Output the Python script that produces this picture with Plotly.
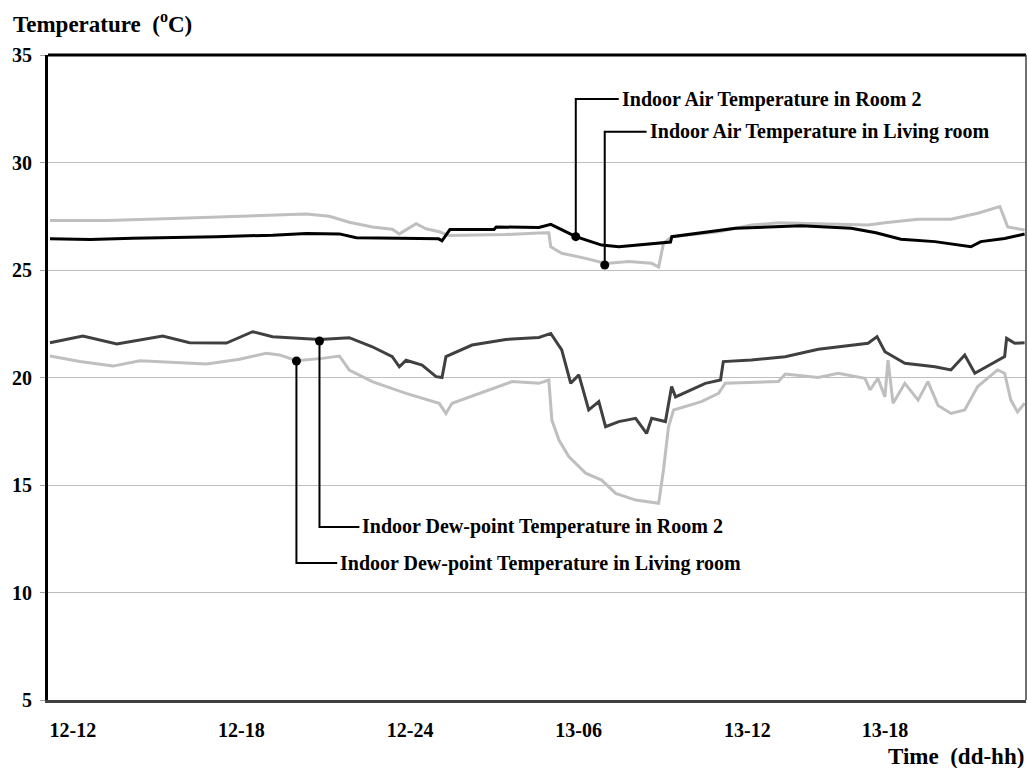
import plotly.graph_objects as go

# ---- data (hours since 12-12) ----
air_r2_h = [0.07, 1.5, 3, 4.5, 6, 8, 9.19, 10.37, 10.97, 12.5, 13.9, 14.02, 14.16, 14.3, 15.87, 15.95, 17.47, 17.89,
            18.78, 19.70, 20.31, 21.73, 22.15, 22.2, 23.25, 24.46, 26.80, 28.58, 29.46, 30.35, 31.56, 32.84, 33.19, 34.04, 34.75]
air_r2_v = [26.45, 26.42, 26.48, 26.5, 26.55, 26.62, 26.7, 26.68, 26.5, 26.48, 26.45, 26.36, 26.6, 26.88, 26.88, 27.0, 26.98, 27.12,
            26.55, 26.16, 26.08, 26.24, 26.3, 26.55, 26.73, 26.94, 27.06, 26.94, 26.73, 26.43, 26.32, 26.08, 26.32, 26.47, 26.67]

air_lr_h = [0.07, 2.09, 4.44, 7.42, 9.19, 10.01, 10.72, 11.54, 12.25, 12.50, 13.10, 13.45, 13.92, 14.27, 16.29, 17.47, 17.82,
            17.89, 18.28, 19.13, 19.84, 20.66, 21.48, 21.73, 21.90, 22.19, 23.86, 25.03, 25.99, 29.18, 29.78, 30.96, 32.13,
            33.08, 33.87, 34.15, 34.75]
air_lr_v = [27.3, 27.3, 27.4, 27.51, 27.6, 27.5, 27.22, 27.0, 26.9, 26.68, 27.15, 26.92, 26.78, 26.6, 26.65, 26.72, 26.73,
            26.08, 25.78, 25.54, 25.3, 25.39, 25.31, 25.14, 26.24, 26.55, 26.78, 27.09, 27.2, 27.09, 27.2, 27.36, 27.36,
            27.64, 27.95, 27.0, 26.86]

dew_r2_h = [0.07, 1.24, 2.45, 4.08, 5.04, 6.35, 7.28, 7.99, 9.66, 10.72, 11.54, 12.25, 12.50, 12.74, 13.31, 13.81, 14.02,
            14.16, 15.09, 16.29, 17.47, 17.89, 18.28, 18.60, 18.89, 19.24, 19.60, 19.84, 20.31, 20.91, 21.30, 21.48, 21.97,
            22.19, 22.33, 23.39, 23.93, 24.03, 25.03, 26.23, 27.41, 28.58, 29.18, 29.50, 29.78, 30.49, 31.56, 32.13, 32.62,
            32.98, 33.69, 34.04, 34.11, 34.40, 34.75]
dew_r2_v = [21.62, 21.93, 21.56, 21.93, 21.62, 21.6, 22.13, 21.9, 21.77, 21.85, 21.43, 20.97, 20.5, 20.8, 20.58, 20.04, 20.0,
            20.97, 21.51, 21.77, 21.86, 22.05, 21.28, 19.73, 20.12, 18.49, 18.88, 17.71, 17.95, 18.1, 17.4, 18.1, 17.95,
            19.58, 19.1, 19.73, 19.88, 20.74, 20.81, 20.97, 21.31, 21.51, 21.59, 21.9, 21.2, 20.66, 20.5, 20.35, 21.05,
            20.2, 20.74, 20.97, 21.82, 21.59, 21.62]

dew_lr_h = [0.07, 1.14, 2.31, 3.27, 5.64, 6.82, 7.77, 8.24, 8.84, 9.76, 10.37, 10.72, 11.54, 12.74, 13.92, 14.16, 14.38,
            15.34, 16.51, 17.47, 17.82, 17.93, 18.18, 18.53, 19.13, 19.70, 20.20, 20.91, 21.73, 21.90, 22.08, 22.26, 23.25,
            23.86, 24.10, 25.99, 26.23, 27.41, 28.12, 29.07, 29.25, 29.53, 29.78, 29.89, 30.07, 30.49, 30.96, 31.31, 31.67,
            32.13, 32.62, 33.08, 33.79, 34.04, 34.26, 34.50, 34.75]
dew_lr_v = [21.0, 20.74, 20.53, 20.78, 20.63, 20.85, 21.13, 21.05, 20.78, 20.89, 21.0, 20.35, 19.81, 19.26, 18.8, 18.33, 18.8,
            19.26, 19.81, 19.73, 19.88, 18.02, 17.09, 16.32, 15.55, 15.23, 14.61, 14.3, 14.15, 15.7, 17.71, 18.49, 18.88,
            19.26, 19.73, 19.81, 20.16, 20.0, 20.2, 19.96, 19.42, 19.96, 19.1, 20.81, 18.8, 19.73, 18.95, 19.81, 18.7,
            18.33, 18.49, 19.58, 20.35, 20.2, 18.95, 18.4, 18.8]

tick_vals = [0, 6, 12, 18, 24, 28.9]
tick_text = ["12-12", "12-18", "12-24", "13-06", "13-12", "13-18"]

labels = ["Indoor Air Temperature in Room 2", "Indoor Air Temperature in Living room",
          "Indoor Dew-point Temperature in Room 2", "Indoor Dew-point Temperature in Living room"]

# callout geometry: (anchor x, anchor y, elbow y, end x)
callouts = [
    (18.78, 26.55, 32.95, 20.31),
    (19.81, 25.23, 31.43, 21.30),
    (9.66, 21.70, 13.05, 11.08),
    (8.84, 20.77, 11.37, 10.29),
]

FONT = "Liberation Serif, Times New Roman, serif"
LIGHT = "#bfbfbf"

fig = go.Figure()
fig.add_trace(go.Scatter(x=air_lr_h, y=air_lr_v, mode="lines", line=dict(color=LIGHT, width=3), name=labels[1]))
fig.add_trace(go.Scatter(x=dew_lr_h, y=dew_lr_v, mode="lines", line=dict(color=LIGHT, width=3), name=labels[3]))
fig.add_trace(go.Scatter(x=dew_r2_h, y=dew_r2_v, mode="lines", line=dict(color="#404040", width=3), name=labels[2]))
fig.add_trace(go.Scatter(x=air_r2_h, y=air_r2_v, mode="lines", line=dict(color="#000000", width=3), name=labels[0]))

for (ax, ay, ey, ex), lab in zip(callouts, labels):
    fig.add_trace(go.Scatter(x=[ax, ax, ex], y=[ay, ey, ey], mode="lines",
                             line=dict(color="black", width=2), hoverinfo="skip"))
    fig.add_annotation(x=ex, y=ey, text=lab, showarrow=False, xanchor="left", yanchor="middle", xshift=1,
                       font=dict(family=FONT, size=20, color="black", weight="bold"))
fig.add_trace(go.Scatter(x=[c[0] for c in callouts], y=[c[1] for c in callouts], mode="markers",
                         marker=dict(color="black", size=9), hoverinfo="skip"))

fig.add_annotation(xref="paper", yref="paper", x=-0.038, y=1.051, xanchor="left", yanchor="middle",
                   text="Temperature\u00a0\u00a0(<sup>o</sup>C)", showarrow=False,
                   font=dict(family=FONT, size=23, color="black", weight="bold"))
fig.add_annotation(xref="paper", yref="paper", x=1.0, y=-0.088, xanchor="right", yanchor="middle",
                   text="Time\u00a0\u00a0(dd-hh)", showarrow=False,
                   font=dict(family=FONT, size=23, color="black", weight="bold"))

# top and right frame
fig.add_shape(type="line", xref="paper", yref="paper", x0=0, x1=1, y0=1, y1=1, line=dict(color="black", width=3))
fig.add_shape(type="line", xref="paper", yref="paper", x0=1, x1=1, y0=0, y1=1, line=dict(color="#404040", width=1.5))

fig.update_layout(
    width=1028, height=768,
    margin=dict(l=48, r=2, t=55, b=68),
    paper_bgcolor="white", plot_bgcolor="white",
    showlegend=False,
    xaxis=dict(range=[0, 34.8], showgrid=False, zeroline=False, tickvals=tick_vals, ticktext=tick_text,
               ticks="", ticklabelposition="outside right", ticklabelstandoff=10,
               tickfont=dict(family=FONT, size=20, color="black", weight="bold"),
               showline=True, linecolor="#404040", linewidth=3),
    yaxis=dict(range=[5, 35], dtick=5, showgrid=True, gridcolor=LIGHT, gridwidth=1, zeroline=False,
               ticks="outside", ticklen=5, tickcolor="#a0a0a0", ticklabelstandoff=4,
               tickfont=dict(family=FONT, size=20, color="black", weight="bold"),
               showline=True, linecolor="black", linewidth=3),
)

fig.write_html("out.html", config={"displayModeBar": False},
               post_script="document.body.style.margin='0';")
